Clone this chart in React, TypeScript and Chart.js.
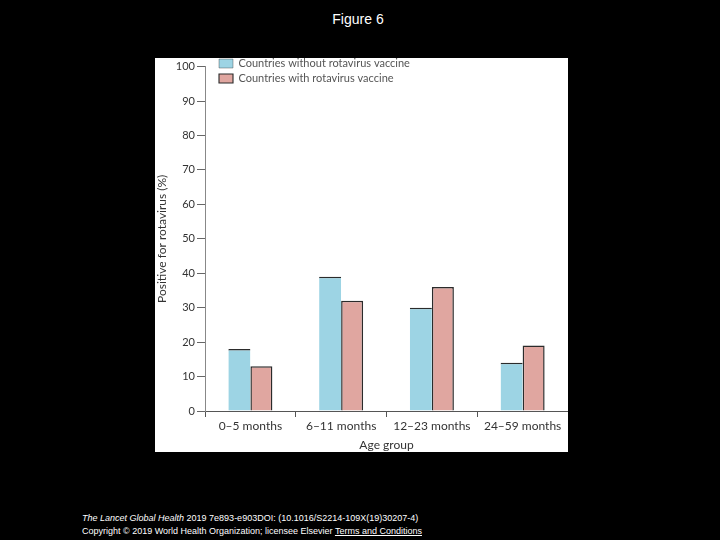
import React, { useEffect, useRef } from "react";
import { Chart, registerables } from "chart.js";

Chart.register(...registerables);

const categories = ["0–5 months", "6–11 months", "12–23 months", "24–59 months"];
const withoutVaccine = [18, 39, 30, 14];
const withVaccine = [13, 32, 36, 19];
const seriesNames = ["Countries without rotavirus vaccine", "Countries with rotavirus vaccine"];
const yTitle = "Positive for rotavirus (%)";
const xTitle = "Age group";

const FONT = "Lato, 'Open Sans', sans-serif";

const legendShift = {
  id: "legendShift",
  afterLayout(chart: any) {
    const lg = chart.legend;
    if (lg) {
      lg.left += 10;
      lg.top -= 4;
    }
  },
};

export default function App() {
  const ref = useRef<HTMLCanvasElement | null>(null);

  useEffect(() => {
    document.body.style.margin = "0";
    document.body.style.background = "#000";
    const ctx = ref.current!.getContext("2d")!;
    const chart = new Chart(ctx, {
      type: "bar",
      data: {
        labels: categories,
        datasets: [
          {
            label: seriesNames[0],
            data: withoutVaccine,
            backgroundColor: "#9dd4e4",
            borderColor: "#2b2b2b",
            borderWidth: { top: 1.5, left: 0, right: 0, bottom: 0 },
            borderSkipped: "bottom",
          },
          {
            label: seriesNames[1],
            data: withVaccine,
            backgroundColor: "#e0a6a0",
            borderColor: "#2b2b2b",
            borderWidth: { top: 1.5, left: 1.5, right: 1.5, bottom: 0 },
            borderSkipped: "bottom",
          },
        ],
      },
      plugins: [legendShift],
      options: {
        animation: false,
        responsive: false,
        maintainAspectRatio: false,
        layout: { padding: { top: 6, right: 0, left: 0, bottom: 0 } },
        datasets: { bar: { categoryPercentage: 0.485, barPercentage: 1 } },
        plugins: {
          legend: {
            position: "chartArea" as any,
            align: "start",
            labels: {
              boxWidth: 14,
              boxHeight: 9,
              padding: 4,
              color: "#555",
              font: { family: FONT, size: 11 },
            },
          },
          tooltip: { enabled: false },
        },
        scales: {
          x: {
            grid: {
              offset: true,
              drawOnChartArea: false,
              drawTicks: true,
              tickLength: 6,
              color: "#555",
            },
            border: { display: true, color: "#555", width: 1 },
            ticks: { color: "#333", font: { family: FONT, size: 12 }, padding: 2 },
            title: {
              display: true,
              text: xTitle,
              color: "#333",
              font: { family: FONT, size: 12 },
              padding: { top: 0, bottom: 0 },
            },
            afterFit: (s: any) => {
              s.height = 41;
            },
          },
          y: {
            min: 0,
            max: 100,
            ticks: { stepSize: 10, color: "#333", font: { family: FONT, size: 11 }, padding: 2 },
            grid: { drawOnChartArea: false, tickLength: 8, color: "#666" },
            border: { display: true, color: "#888", width: 1 },
            title: {
              display: true,
              text: yTitle,
              color: "#333",
              font: { family: FONT, size: 12 },
              padding: { top: 0, bottom: 2 },
            },
            afterFit: (s: any) => {
              s.width = 50;
            },
          },
        },
      },
    });
    return () => chart.destroy();
  }, []);

  return (
    <div
      style={{
        position: "fixed",
        left: 0,
        top: 0,
        width: 720,
        height: 540,
        background: "#000",
        fontFamily: "'Liberation Sans', Arial, sans-serif",
        color: "#fff",
      }}
    >
      <div style={{ position: "absolute", top: 11, left: 0, width: 716, textAlign: "center", fontSize: 14 }}>
        Figure 6
      </div>
      <div style={{ position: "absolute", left: 155, top: 58, width: 413, height: 394, background: "#fff" }}>
        <canvas ref={ref} width={413} height={394} style={{ display: "block" }} />
      </div>
      <div style={{ position: "absolute", left: 82, top: 512, fontSize: 9, lineHeight: "13px", whiteSpace: "nowrap" }}>
        <div>
          <i>The Lancet Global Health</i> 2019 7e893-e903DOI: (10.1016/S2214-109X(19)30207-4)
        </div>
        <div>
          Copyright © 2019 World Health Organization; licensee Elsevier{" "}
          <span style={{ textDecoration: "underline" }}>Terms and Conditions</span>
        </div>
      </div>
    </div>
  );
}
